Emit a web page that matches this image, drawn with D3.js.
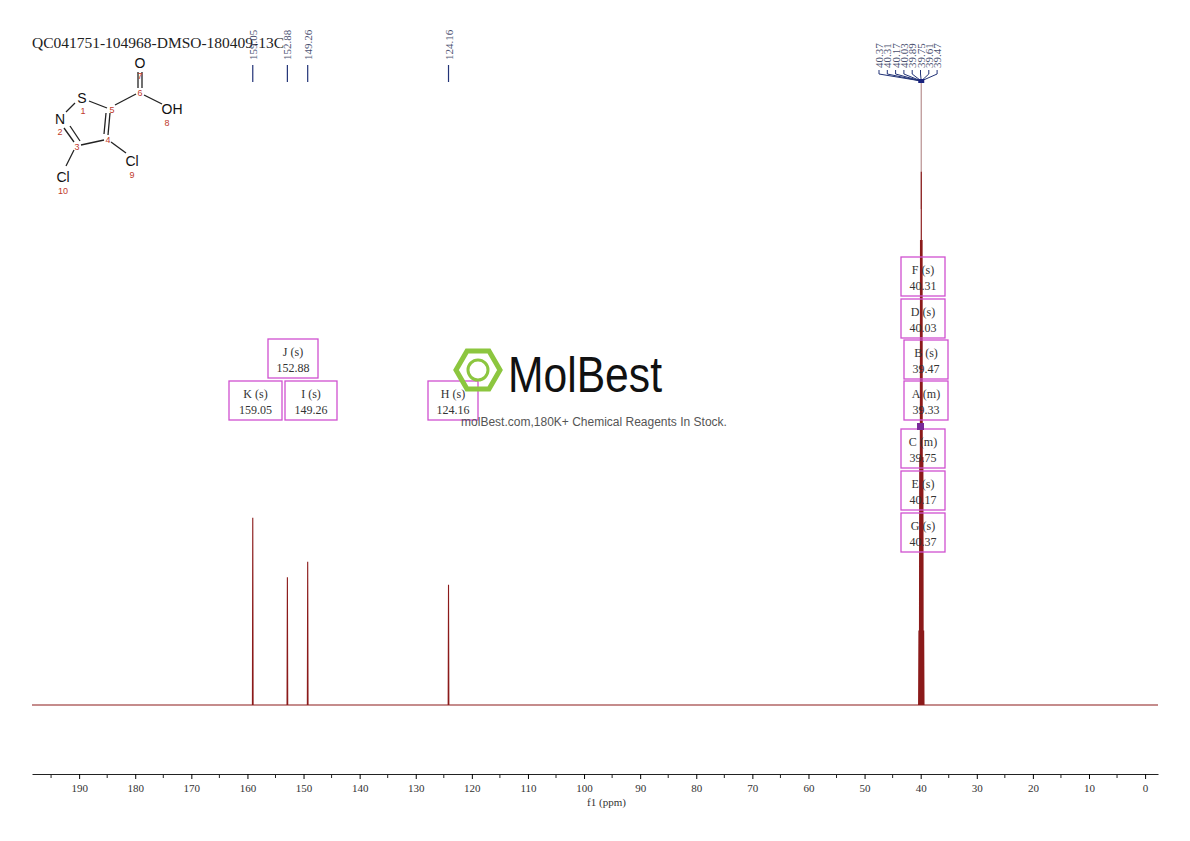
<!DOCTYPE html>
<html><head><meta charset="utf-8">
<script src="https://cdn.jsdelivr.net/npm/d3@7"></script>
<style>body{margin:0;background:#fff}.serif{font-family:"Liberation Serif","DejaVu Serif",serif}.sans{font-family:"Liberation Sans",Arial,sans-serif}</style>
</head><body>
<svg id="chart" width="1190" height="841"></svg>
<script>
// Spectrum data (ppm, relative intensity)
const peakShifts = [159.05, 152.88, 149.26, 124.16, 39.47, 39.61, 39.75, 39.89, 40.03, 40.17, 40.31];
const peakHeights = [30.2, 20.6, 23.1, 19.4, 12, 40, 75, 86, 75, 40, 12];
const topLabels = ["159.05", "152.88", "149.26", "124.16"];
const solventLabels = ["40.37", "40.31", "40.17", "40.03", "39.89", "39.75", "39.61", "39.47"];
const boxNames = ["J (s)", "K (s)", "I (s)", "H (s)", "F (s)", "D (s)", "B (s)", "A (m)", "C (m)", "E (s)", "G (s)"];
const boxValues = ["152.88", "159.05", "149.26", "124.16", "40.31", "40.03", "39.47", "39.33", "39.75", "40.17", "40.37"];
const tickValues = [190, 180, 170, 160, 150, 140, 130, 120, 110, 100, 90, 80, 70, 60, 50, 40, 30, 20, 10, 0];

const svg = d3.select("#chart");
const x = d3.scaleLinear().domain([198.4, -2.3]).range([32, 1158]);
const y = d3.scaleLinear().domain([0, 100]).range([705, 85]);

// Title
svg.append("text").attr("class", "serif").attr("x", 32).attr("y", 48).attr("font-size", 15).attr("fill", "#222")
  .attr("textLength", 252).attr("lengthAdjust", "spacingAndGlyphs")
  .text("QC041751-104968-DMSO-180409-13C");

// Spectrum line
const pts = [[198.4, 0]];
peakShifts.forEach((p, i) => pts.push([p + 0.06, 0], [p, peakHeights[i]], [p - 0.06, 0]));
pts.push([-2.3, 0]);
pts.sort((a, b) => b[0] - a[0]);
svg.append("line").attr("x1", x(39.9)).attr("x2", x(39.9)).attr("y1", 80).attr("y2", y(80))
  .attr("stroke", "#b89090").attr("stroke-width", 1.2);
svg.append("path").datum(pts)
  .attr("d", d3.line().x(d => x(d[0])).y(d => y(d[1])))
  .attr("fill", "none").attr("stroke", "#8b1a1a").attr("stroke-width", 1.1);

// Peak labels (top)
const labelColor = "#4a5070";
[159.05, 152.88, 149.26, 124.16].forEach((p, i) => {
  const px = x(p);
  svg.append("text").attr("class", "serif").attr("transform", `translate(${px + 4},60) rotate(-90)`)
    .attr("font-size", 11).attr("fill", labelColor).text(topLabels[i]);
  svg.append("line").attr("x1", px).attr("x2", px).attr("y1", 65).attr("y2", 82)
    .attr("stroke", "#223377").attr("stroke-width", 1.2);
});
const sx0 = 879, sdx = 8.3, cx = x(39.9);
solventLabels.forEach((t, i) => {
  const lx = sx0 + i * sdx;
  svg.append("text").attr("class", "serif").attr("transform", `translate(${lx + 4},68) rotate(-90)`)
    .attr("font-size", 11).attr("fill", labelColor).text(t);
  svg.append("path").attr("d", `M${lx},70 L${lx},74 L${cx},81`)
    .attr("fill", "none").attr("stroke", "#223377").attr("stroke-width", 1);
});
svg.append("rect").attr("x", cx - 3).attr("y", 79).attr("width", 6).attr("height", 4).attr("fill", "#1a237e");

// Annotation boxes
const boxPos = [[268, 339, 50], [229, 381, 53], [285, 381, 52], [428, 381, 50],
  [901, 257, 44], [901, 299, 44], [904, 340, 44], [904, 381, 44], [901, 429, 44], [901, 471, 44], [901, 513, 44]];
boxPos.forEach(([bx, by, bw], i) => {
  svg.append("rect").attr("x", bx).attr("y", by).attr("width", bw).attr("height", 39)
    .attr("fill", "none").attr("stroke", "#d050d0").attr("stroke-width", 1.3);
  svg.append("text").attr("class", "serif").attr("x", bx + bw / 2).attr("y", by + 17).attr("text-anchor", "middle")
    .attr("font-size", 12).attr("fill", "#333").text(boxNames[i]);
  svg.append("text").attr("class", "serif").attr("x", bx + bw / 2).attr("y", by + 33).attr("text-anchor", "middle")
    .attr("font-size", 12).attr("fill", "#333").text(boxValues[i]);
});
svg.append("rect").attr("x", 917).attr("y", 423).attr("width", 7).attr("height", 7).attr("fill", "#7a2a9a");

// Watermark
const hex = d3.range(6).map(k => [478 + 22 * Math.cos(Math.PI / 3 * k), 370 + 22 * Math.sin(Math.PI / 3 * k)]);
svg.append("polygon").attr("points", hex.join(" ")).attr("fill", "none").attr("stroke", "#8cc63f").attr("stroke-width", 5);
svg.append("circle").attr("cx", 478).attr("cy", 370).attr("r", 10).attr("fill", "none").attr("stroke", "#8cc63f").attr("stroke-width", 3);
svg.append("text").attr("class", "sans").attr("x", 508).attr("y", 392).attr("font-size", 50)
  .attr("fill", "#111").attr("textLength", 154).attr("lengthAdjust", "spacingAndGlyphs").text("MolBest");
svg.append("text").attr("class", "sans").attr("x", 594).attr("y", 426).attr("text-anchor", "middle").attr("font-size", 12)
  .attr("fill", "#555").text("molBest.com,180K+ Chemical Reagents In Stock.");

// Axis
const axis = svg.append("g").attr("transform", "translate(0,774)")
  .call(d3.axisBottom(x).tickValues(tickValues).tickSize(5).tickSizeOuter(0));
axis.select(".domain").attr("stroke", "#222");
axis.selectAll(".tick text").attr("class", "serif").attr("font-size", 11).attr("fill", "#333").attr("dy", "0.9em");
axis.selectAll(".minor").data(tickValues.map(v => v + 5)).enter().append("line")
  .attr("x1", d => x(d)).attr("x2", d => x(d)).attr("y1", 0).attr("y2", 4).attr("stroke", "#222");
svg.append("text").attr("class", "serif").attr("x", x(96)).attr("y", 806).attr("text-anchor", "middle").attr("font-size", 11)
  .attr("fill", "#333").text("f1 (ppm)");

// Structure
const mol = svg.append("g");
const bonds = [[89, 101, 107, 108], [75, 103, 66, 112], [64, 128, 74, 142], [70, 126, 80, 141],
  [81, 145, 104, 140], [108, 135, 110, 113], [104, 134, 106, 113], [115, 105, 136, 94],
  [138, 88, 138, 72], [142, 88, 142, 72], [144, 95, 162, 104], [111, 142, 126, 153], [74, 150, 66, 166]];
bonds.forEach(b => mol.append("line").attr("x1", b[0]).attr("y1", b[1]).attr("x2", b[2]).attr("y2", b[3])
  .attr("stroke", "#222").attr("stroke-width", 1.3));
const atoms = [["S", 82, 103], ["N", 60, 124], ["O", 140, 68], ["OH", 172, 114], ["Cl", 132, 166], ["Cl", 63, 182]];
atoms.forEach(a => mol.append("text").attr("class", "sans").attr("x", a[1]).attr("y", a[2]).attr("text-anchor", "middle")
  .attr("font-size", 14).attr("fill", "#111").text(a[0]));
const nums = [["1", 83, 114], ["2", 60, 135], ["3", 77, 150], ["4", 108, 143], ["5", 112, 113], ["6", 140, 96],
  ["7", 140, 79], ["8", 167, 126], ["9", 132, 178], ["10", 63, 194]];
nums.forEach(a => mol.append("text").attr("class", "sans").attr("x", a[1]).attr("y", a[2]).attr("text-anchor", "middle")
  .attr("font-size", 9).attr("fill", "#c0392b").text(a[0]));
</script>
</body></html>
